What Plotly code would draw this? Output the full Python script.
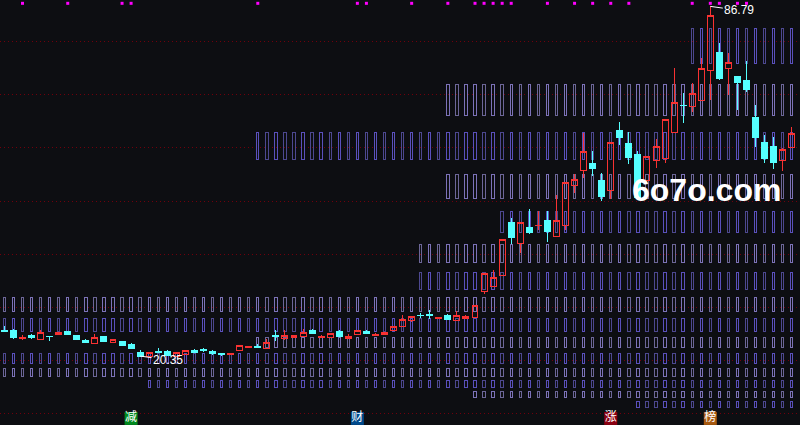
import plotly.graph_objects as go

BG = "#0d0e12"
RED = "#f83232"
CYAN = "#55ffff"

sessions = list(range(88))
highs = [26.12,25.55,24.35,24.60,25.24,24.16,24.86,25.11,24.35,23.59,24.48,24.16,23.53,23.21,22.83,21.50,21.06,21.82,21.50,21.06,21.44,21.69,21.82,21.50,20.99,20.87,22.39,22.26,22.64,23.59,
         25.30,25.24,24.29,25.49,25.49,24.35,24.67,25.30,24.48,25.24,25.30,24.73,24.86,26.00,28.15,27.90,28.53,29.10,27.77,28.40,28.91,28.15,29.99,36.07,36.70,42.53,46.52,45.82,48.29,47.91,
         47.91,50.89,53.36,54.88,62.79,59.31,55.07,60.96,64.82,62.92,59.31,58.30,61.59,65.33,75.02,70.33,72.17,76.92,86.79,79.83,77.93,73.56,76.41,68.05,62.35,61.97,59.88,63.87]
lows = [25.11,23.59,23.40,23.65,23.46,23.21,24.41,24.35,23.59,22.77,22.70,23.08,22.89,22.45,21.88,20.35,20.36,21.12,20.55,20.36,20.61,21.12,21.12,20.61,20.36,20.61,21.37,21.94,21.82,21.75,
        23.21,23.34,23.84,24.03,24.48,23.84,23.84,24.03,23.65,24.41,24.48,24.22,24.41,25.24,25.93,26.82,27.52,27.39,27.45,27.14,27.07,27.45,27.58,32.14,33.66,35.62,41.58,39.99,43.54,44.30,
        42.08,43.03,44.30,51.27,54.24,54.56,49.81,50.19,60.45,56.84,50.19,53.23,56.08,57.09,62.79,64.69,66.72,68.87,69.06,72.80,69.95,67.10,70.52,60.07,57.03,55.89,55.51,59.94]
opens = [25.24,25.30,23.78,24.35,23.46,24.16,24.41,24.98,24.35,23.40,22.70,24.16,22.89,23.21,22.64,21.12,20.36,21.18,21.31,20.36,20.61,21.50,21.56,21.31,20.80,20.61,21.37,21.94,22.26,21.75,
         24.29,23.65,23.84,24.03,25.17,23.97,23.84,25.11,23.65,24.41,25.11,24.22,24.41,25.24,25.93,27.07,28.15,28.34,27.45,28.15,27.07,27.45,27.64,32.58,33.66,35.62,45.82,41.70,44.87,45.12,
         46.20,43.03,45.12,52.72,55.57,57.03,53.80,51.84,63.30,60.83,58.74,53.80,57.47,57.85,62.79,68.05,67.73,68.87,74.57,78.12,74.95,73.56,72.80,65.77,61.02,60.26,57.47,59.94]
closes = [25.11,23.84,23.91,23.97,24.86,24.07,24.86,24.48,23.59,22.96,23.91,23.08,23.53,22.45,21.88,20.35,21.06,21.12,20.55,21.06,21.44,21.12,21.44,20.80,20.61,20.87,22.39,22.26,22.07,22.96,
          24.16,24.29,24.29,24.92,24.67,24.16,24.67,24.03,24.16,25.24,24.67,24.54,24.86,26.00,27.33,27.90,28.02,28.15,27.77,27.39,28.09,27.90,29.99,36.07,35.37,42.53,42.84,45.76,43.79,45.25,
          44.11,46.14,53.36,53.93,59.25,56.08,50.76,60.96,61.97,58.17,50.57,58.30,60.20,65.33,68.56,67.96,70.27,75.02,85.09,73.18,76.16,72.42,71.09,61.97,57.98,57.22,59.63,62.67]

band_tops = [82.68,71.98,62.92,54.88,47.91,41.54,36.26,31.57,27.58,23.91,20.87,18.08,15.80,13.71,11.81]
band_bottoms = [75.93,66.09,57.69,50.32,43.82,38.12,33.00,28.91,25.11,21.94,18.97,16.43,14.34,12.44,10.67]
band_starts = [76,49,28,49,55,46,46,0,0,28,0,0,16,52,70]
band_tones = ["p","l","p","l","p","l","p","l","p","l","p","l","p","l","p"]

grid_levels = [80.21,70.14,60.07,49.81,39.74,29.67,19.60,9.53]
signal_sessions = [2,7,13,14,28,39,40,45,49,52,53,54,55,56,60,63,65,67,69,76,78,79,81,82]
signal_level = 87.37
tag_sessions = [14,39,67,78]
tag_texts = ["减","财","涨","榜"]
tag_colors = ["#008a1e","#004a8c","#8c0012","#a85a10"]
tag_level = 8.5

TONES = {"p": ("#5a50bc", "#4d4890"), "l": ("#7c72b8", "#6c6698")}

fig = go.Figure()
for top, bottom, start, tone in zip(band_tops, band_bottoms, band_starts, band_tones):
    xs = sessions[start:]
    bright, dim = TONES[tone]
    cols = [bright if int(4.4 + 9.05 * i) % 2 else dim for i in xs]
    fig.add_trace(go.Bar(
        x=xs, y=[top - bottom] * len(xs), base=[bottom] * len(xs), width=0.26,
        marker=dict(color="rgba(0,0,0,0)", line=dict(color=cols, width=1)),
        hoverinfo="skip", showlegend=False,
    ))

fig.add_trace(go.Candlestick(
    x=sessions, open=opens, high=highs, low=lows, close=closes, whiskerwidth=0,
    increasing=dict(line=dict(color=RED, width=1), fillcolor="rgba(0,0,0,0)"),
    decreasing=dict(line=dict(color=CYAN, width=1), fillcolor=CYAN),
    showlegend=False,
))

fig.add_trace(go.Scatter(
    x=signal_sessions, y=[signal_level] * len(signal_sessions), mode="markers",
    marker=dict(symbol="square", size=3, color="#ff00ff"), showlegend=False, hoverinfo="skip",
))
fig.add_trace(go.Scatter(
    x=tag_sessions, y=[tag_level] * len(tag_sessions), mode="markers+text", text=tag_texts,
    textposition="middle center",
    textfont=dict(family="Noto Sans CJK SC", size=12, color="#ffffff"),
    marker=dict(symbol="square", size=13, color=tag_colors), showlegend=False, hoverinfo="skip",
))

high_i = highs.index(max(highs))
low_i = lows.index(min(lows))
label_font = dict(family="Liberation Sans", size=12, color="#ffffff")
annotations = [
    dict(x=high_i, y=highs[high_i], text=f"{highs[high_i]:.2f}", font=label_font, showarrow=True,
         ax=29, ay=4, arrowcolor="#ffffff", arrowwidth=1, arrowhead=0, xref="x", yref="y"),
    dict(x=low_i, y=lows[low_i], text=f"{lows[low_i]:.2f}", font=label_font, showarrow=True,
         ax=28, ay=4, arrowcolor="#ffffff", arrowwidth=1, arrowhead=0, xref="x", yref="y"),
    dict(x=0.883, y=0.553, xref="paper", yref="paper", xanchor="center", yanchor="middle",
         text="<b>6o7o.com</b>", showarrow=False,
         font=dict(family="Liberation Sans", size=32, color="#ffffff")),
]

fig.update_layout(
    width=800, height=425, margin=dict(l=0, r=0, t=0, b=0), autosize=False,
    paper_bgcolor=BG, plot_bgcolor=BG, barmode="overlay", showlegend=False,
    boxgap=0.2, boxgroupgap=0.175,
    annotations=annotations,
    xaxis=dict(range=[-0.486, 87.91], visible=False, rangeslider=dict(visible=False), showgrid=False, fixedrange=True),
    yaxis=dict(range=[7.25, 88], tickvals=grid_levels, showticklabels=False, ticks="", zeroline=False,
               showgrid=True, gridcolor="#70000c", griddash="1px,3px", gridwidth=1, showline=False, fixedrange=True),
)
fig.write_html(
    "out.html",
    config={"displayModeBar": False},
    post_script=(
        "document.documentElement.style.background='#0d0e12';"
        "document.body.style.margin='0';document.body.style.overflow='hidden';"
        "document.head.insertAdjacentHTML('beforeend',"
        "'<style>.boxlayer path,.barlayer path,.gridlayer path{shape-rendering:crispEdges}</style>');"
    ),
)
